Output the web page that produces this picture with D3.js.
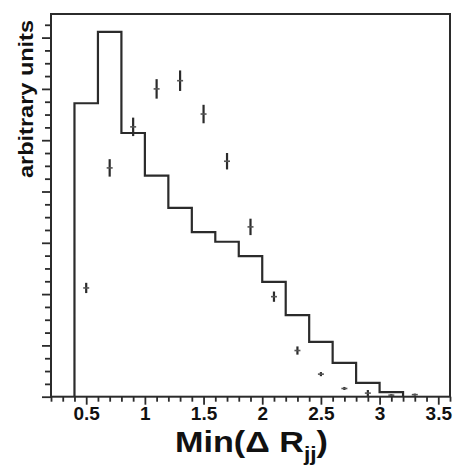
<!DOCTYPE html>
<html>
<head>
<meta charset="utf-8">
<script src="https://cdn.jsdelivr.net/npm/d3@7"></script>
<style>
  html, body { margin: 0; padding: 0; background: #fff; }
  svg { display: block; }
</style>
</head>
<body>
<svg id="chart" width="453" height="473"></svg>
<script>
// ---- data ----
const binEdges = [0.4, 0.6, 0.8, 1.0, 1.2, 1.4, 1.6, 1.8, 2.0, 2.2, 2.4, 2.6, 2.8, 3.0, 3.2];
const binValues = [5.72, 7.11, 5.14, 4.31, 3.68, 3.21, 3.02, 2.74, 2.24, 1.59, 1.07, 0.66, 0.27, 0.09];

const pointX   = [0.5, 0.7, 0.9, 1.1, 1.3, 1.5, 1.7, 1.9, 2.1, 2.3, 2.5, 2.7, 2.9, 3.1, 3.3];
const pointY   = [2.12, 4.46, 5.26, 6.00, 6.16, 5.51, 4.59, 3.31, 1.95, 0.90, 0.44, 0.16, 0.07, 0.03, 0.04];
const pointErr = [0.10, 0.17, 0.18, 0.19, 0.20, 0.18, 0.16, 0.16, 0.10, 0.08, 0.04, 0.03, 0.06, 0.02, 0.02];

const xMajorTicks = [0.5, 1, 1.5, 2, 2.5, 3, 3.5];
const xTickLabels = ["0.5", "1", "1.5", "2", "2.5", "3", "3.5"];
const xTitle = "Min(\u0394 R";
const xTitleSub = "jj";
const yTitle = "arbitrary units";

// ---- layout ----
const L = 51, R = 450, T = 14, B = 396.7;
const svg = d3.select("#chart");
const x = d3.scaleLinear().domain([0.2, 3.6]).range([L, R]);
const y = d3.scaleLinear().domain([0, (B - T) / 51.3]).range([B, T]);
const ink = "#2b2b2b";

// minor ticks
const xMinor = d3.range(2, 37).map(d => d / 10).filter(v => !xMajorTicks.some(m => Math.abs(m - v) < 1e-6));
const yMajor = d3.range(0, 8).filter(v => v <= y.domain()[1]);
const yMinor = d3.range(0, 30).map(d => d * 0.25).filter(v => v <= y.domain()[1] && Math.abs(v - Math.round(v)) > 1e-6);

function styleAxis(g) {
  g.select(".domain").remove();
  g.selectAll(".tick line").attr("stroke", ink).attr("stroke-width", 1.8);
}

svg.append("g").attr("transform", `translate(0,${B})`)
  .call(d3.axisBottom(x).tickValues(xMinor).tickSize(5).tickFormat(""))
  .call(styleAxis);
const xMaj = svg.append("g").attr("transform", `translate(0,${B})`)
  .call(d3.axisBottom(x).tickValues(xMajorTicks).tickSize(8).tickPadding(6)
    .tickFormat((d, i) => xTickLabels[i]))
  .call(styleAxis);
xMaj.selectAll(".tick text")
  .attr("fill", "#111")
  .attr("font-family", "'Liberation Sans', Arial, sans-serif")
  .attr("font-weight", "bold")
  .attr("font-size", 19)
  .attr("dy", null)
  .attr("y", 23.5);

svg.append("g").attr("transform", `translate(${L},0)`)
  .call(d3.axisLeft(y).tickValues(yMinor).tickSize(6).tickFormat(""))
  .call(styleAxis);
svg.append("g").attr("transform", `translate(${L},0)`)
  .call(d3.axisLeft(y).tickValues(yMajor).tickSize(9).tickFormat(""))
  .call(styleAxis);

// frame
svg.append("rect")
  .attr("x", L).attr("y", T).attr("width", R - L).attr("height", B - T)
  .attr("fill", "none").attr("stroke", ink).attr("stroke-width", 2);

// histogram
const histPts = [[binEdges[0], 0]];
binValues.forEach((v, i) => { histPts.push([binEdges[i], v]); histPts.push([binEdges[i + 1], v]); });
histPts.push([binEdges[binEdges.length - 1], 0]);
svg.append("path")
  .attr("d", d3.line().x(d => x(d[0])).y(d => y(d[1]))(histPts))
  .attr("fill", "none").attr("stroke", ink).attr("stroke-width", 2.2)
  .attr("stroke-linejoin", "miter");

// points with error bars
const pts = pointX.map((px, i) => ({ x: px, y: pointY[i], e: pointErr[i] }));
const pg = svg.append("g");
pg.selectAll("line.err").data(pts).join("line").attr("class", "err")
  .attr("x1", d => x(d.x)).attr("x2", d => x(d.x))
  .attr("y1", d => y(d.y + d.e)).attr("y2", d => y(Math.max(0, d.y - d.e)))
  .attr("stroke", ink).attr("stroke-width", 2.2);
pg.selectAll("line.mk").data(pts).join("line").attr("class", "mk")
  .attr("x1", d => x(d.x) - 3).attr("x2", d => x(d.x) + 3)
  .attr("y1", d => y(d.y)).attr("y2", d => y(d.y))
  .attr("stroke", "#555").attr("stroke-width", 1.6);

// titles
svg.append("text")
  .attr("x", 251.5).attr("y", 451.5)
  .attr("text-anchor", "middle")
  .attr("font-family", "'Liberation Sans', Arial, sans-serif")
  .attr("font-weight", "bold").attr("font-size", 30).attr("fill", "#111")
  .attr("textLength", 153).attr("lengthAdjust", "spacingAndGlyphs")
  .call(t => {
    t.append("tspan").text(xTitle);
    t.append("tspan").attr("font-size", 20).attr("dy", 9).text(xTitleSub);
    t.append("tspan").attr("dy", -9).text(")");
  });

svg.append("text")
  .attr("transform", "translate(33,99) rotate(-90)")
  .attr("text-anchor", "middle")
  .attr("font-family", "'Liberation Sans', Arial, sans-serif")
  .attr("font-weight", "bold").attr("font-size", 20).attr("fill", "#111")
  .attr("textLength", 158).attr("lengthAdjust", "spacingAndGlyphs")
  .text(yTitle);
</script>
</body>
</html>
